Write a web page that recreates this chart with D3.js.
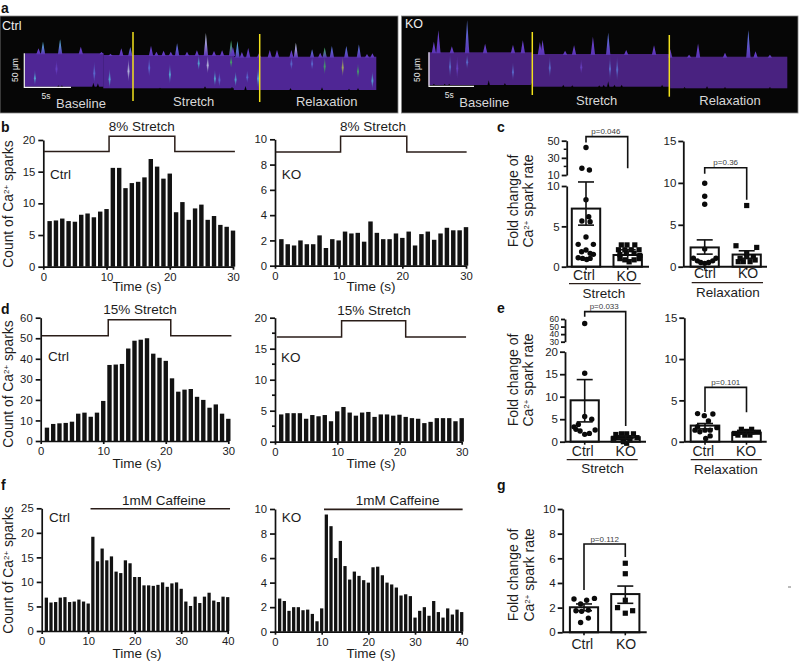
<!DOCTYPE html>
<html><head><meta charset="utf-8">
<script src="https://cdnjs.cloudflare.com/ajax/libs/d3/7.8.5/d3.min.js"></script>
<style>
html,body{margin:0;padding:0;background:#fff}
text{font-family:"Liberation Sans",Arial,sans-serif;fill:#1c1c1c}
</style></head><body><svg id="c" width="800" height="662"></svg>
<script>
// ---------- data ----------
const b8Ctrl=[7.2,7.3,7.6,7.2,7.1,8.2,8.4,7.8,8.7,9.1,15.6,15.6,12.4,13.2,13.4,14.1,17,15.8,13.9,14.7,8.6,10.2,7.4,9.2,9.8,7.4,8,6.6,6.3,5.7];
const b8KO=[2.1,1.7,1.6,2.0,1.7,1.7,2.4,1.4,2.1,2.0,2.7,2.55,2.6,1.9,3.5,2.6,2.1,2.1,2.55,2.2,2.7,1.6,2.5,2.7,2.05,2.55,3.0,2.8,2.8,3.05];
const d15Ctrl=[6.5,8.3,8.6,8.8,9.4,13.3,13.8,11.8,13.8,19.5,37,37.2,37.5,45,48.8,49.3,50,42.5,40.5,39,30.5,24,25,25.3,21.5,20,16.2,17.8,13.3,10.8];
const d15KO=[4.4,4.6,4.6,4.6,3.7,4.3,4.1,4.3,3.3,4.9,5.6,4.7,4.2,4.7,4.8,4,4.4,4.4,4.2,4.35,4,3.8,3.7,3,3.2,3.8,3.8,3.8,3.3,3.8];
const fCafCtrl=[6.8,5.8,5.9,6.8,6.9,5.9,6,6.4,6,5.6,19.2,14.2,16.8,14.4,15.2,12.1,11.8,14.4,13.8,11,11,9.3,9.3,9.2,9.4,9.9,9,9.7,9.9,8.6,6,5.1,7,5.7,7,7.8,6.2,5.9,7,6.9];
const fCafKO=[2.7,2.5,1.7,2,2,1.75,1.8,1.45,0.85,1.9,9.55,8.6,6,7.4,5.35,4.25,4.9,4.55,4.2,4,5.25,5.3,4.6,4,3.85,3.6,2.95,3.05,2.9,1.15,1.7,2,1.3,2.5,1.6,1.15,1.9,1.4,1.8,1.6];

// stimulus traces: [time, count]
const b8CtrlTrace=[[0.1,18.2],[10.4,18.2],[10.4,20.6],[20.8,20.6],[20.8,18.2],[30.3,18.2]];
const b8KOTrace=[[0.1,9],[10.3,9],[10.3,10.25],[20.7,10.25],[20.7,9],[30.1,9]];
const d15CtrlTrace=[[0.2,51.2],[10.8,51.2],[10.8,59],[20.8,59],[20.8,51.2],[30.5,51.2]];
const d15KOTrace=[[0.3,16.9],[10.7,16.9],[10.7,19.5],[21,19.5],[21,16.9],[30.7,16.9]];
const fCtrlTrace=[[10.5,24.9],[40.5,24.9]];
const fKOTrace=[[10.5,9.97],[40.2,9.97]];

// scatter points: [jitter, fold change]
const cStCtrlPts=[[0,42],[-.29,17.8],[.24,15.8],[0,8.3],[.19,6.2],[-.29,5.66],[.29,5.58],[0,3.68],[-.55,2.77],[.52,2.77],[0,2.07],[.29,1.65],[-.31,1.86],[.52,1.53],[-.55,1.1],[-.24,1.03],[.05,.9],[.29,1.03]];
const cStKOPts=[[-.45,2.7],[-.05,2.7],[.5,2.7],[-.65,2.1],[-.2,2.1],[.25,2.1],[.8,2.1],[-.55,1.5],[-.1,1.65],[.45,1.65],[.85,1.4],[-.55,1],[-.2,.85],[.1,.6],[.45,.85],[.8,1]];
const cRxCtrlPts=[[0,9.95],[0,8.4],[0,7.45],[0,2.1],[-.8,1],[-.52,.7],[-.28,.5],[0,.4],[.28,.5],[.57,.7],[.8,1]];
const cRxKOPts=[[0,7.3],[-.76,2.5],[.71,2.3],[0,1.6],[-.47,1],[0,1.2],[.47,1.2],[-.24,.6],[.24,.6],[-.6,.6],[.6,.8]];
const eStCtrlPts=[[0,54],[0,15.2],[0,5.6],[.5,5],[-.76,3.3],[-.45,3.85],[-.62,2.74],[-.33,2.37],[0,1.63],[.33,1.85],[.74,2.6]];
const eStKOPts=[[-.7,1.6],[-.3,1.75],[.07,1.75],[.55,1.75],[-.52,.9],[-.17,.75],[.2,.9],[.8,.9],[-.85,.75],[-.17,0],[.07,-.35],[.3,.4]];
const eRxCtrlPts=[[-.52,3.4],[.55,3.35],[-.05,3.15],[.24,2.5],[-.52,1.8],[-.7,1.4],[-.36,1.2],[0,1.4],[.36,1.4],[.83,1.7],[.36,.7],[.05,.4]];
const eRxKOPts=[[-.36,1.5],[.36,1.5],[-.83,1],[-.48,1.15],[0,1.25],[.48,1.15],[.83,1.15],[-.6,.8],[-.12,.8],[.24,.8]];
const gCtrlPts=[[-.71,2.7],[.19,2.6],[.74,2.75],[-.24,2.3],[-.57,1.75],[-.17,1.7],[.31,1.8],[.31,1.15],[-.24,.8]];
const gKOPts=[[0,5.6],[0,4.75],[0,2.6],[-.55,2],[.52,1.75],[0,1.55]];

// bar summary: [mean, lower error, upper error]
const cStCtrlBar=[7.2,5.15,10.5], cStKOBar=[1.45,.85,2.1];
const cRxCtrlBar=[2.3,1.5,3.2], cRxKOBar=[1.45,1.0,1.9];
const eStCtrlBar=[9.2,4.4,13.8], eStKOBar=[1.0,.7,1.3];
const eRxCtrlBar=[1.95,1.55,2.2], eRxKOBar=[1.1,.95,1.25];
const gCtrlBar=[2.03,1.75,2.3], gKOBar=[3.1,2.35,3.75];

// linescan spikes: [time s, height µm, tint]
const scanCtrlSpikes=[[2,17.5,'c'],[3.9,21,'c'],[1.5,7.5,'p'],[6.2,10,'p'],[10.7,10,'p'],[11.7,12,'b'],[14,14,'p'],[15.4,6.5,'p'],[16.9,17.5,'b'],[16.2,5,'p'],[20.1,33,'w'],[19.1,7,'p'],[22.9,22,'g'],[23.6,23.5,'c'],[23.1,12,'p'],[24.8,13,'p'],[21.9,7,'p'],[27.2,10,'p'],[28,10,'p'],[29.6,10,'p'],[30.1,21,'w'],[31.9,11,'b'],[33.3,14,'g'],[34.1,16,'b'],[35.7,16,'b'],[37.1,18.5,'b'],[38.6,5,'p'],[18,5,'p'],[14.6,5,'p'],[21,6,'p'],[24.1,7,'p'],[38,4,'p'],[8.5,2,'p'],[9.5,2,'p'],[26,5,'p'],[32.8,6,'p']];
const scanKOSpikes=[[.6,16,'p'],[1.1,33,'p'],[2.6,9,'p'],[4.3,48,'b'],[6.3,13,'p'],[9.4,11,'p'],[10.5,18,'p'],[12.4,18,'p'],[12.7,21,'p'],[15.2,5,'p'],[16.2,13,'p'],[18.3,26,'p'],[20,32,'b'],[22,6,'p'],[25.1,13,'p'],[26.9,11,'p'],[29,3,'p'],[30,20,'p'],[33,6,'p'],[35.6,40,'b'],[36.4,8,'p'],[38,3,'p']];
// streaks inside the band: [time s, from µm, to µm, tint]
const scanCtrlStreaks=[[1.1,25,48,'c'],[3.5,10,35,'p'],[7.7,12,45,'b'],[9.4,20,50,'c'],[11.5,5,40,'w'],[13.8,3,33,'b'],[16.1,13,43,'c'],[19.3,0,23,'c'],[20.3,0,28,'w'],[21.1,22,47,'c'],[21.6,25,48,'b'],[23.4,22,45,'c'],[25.9,15,48,'c'],[29.6,0,20,'b'],[31.9,0,20,'b'],[33.3,0,27,'g'],[35.3,0,30,'y'],[37,10,33,'g'],[38.6,22,48,'c'],[22.9,0,20,'g'],[24.7,20,40,'b']];
const scanKOStreaks=[[2.4,3,38,'b'],[4.3,3,25,'b'],[9.4,15,42,'b'],[3.2,5,40,'p'],[13.5,4,35,'b'],[20.2,4,38,'b'],[21,4,40,'b'],[17,8,30,'p']];
// black notches under the band: [time s, height µm]
const scanCtrlNotches=[[3.7,2],[4.1,2],[7.6,6],[8.1,5],[15,1],[20,3],[23,2],[24.5,6],[29.5,3],[33,4],[36,2],[37,3]];
const scanKONotches=[[.6,2],[1.8,2],[2.3,2],[6.7,7],[8.5,3],[11.5,3],[15,3],[16,2],[19,2],[19.5,3],[20,8],[20.7,3],[21.5,3],[26,3],[28.5,2],[31,3],[33,2],[38,2]];

// ---------- helpers ----------
const svg=d3.select('#c');
const defs=svg.append('defs');
defs.append('filter').attr('id','soft').append('feGaussianBlur').attr('stdDeviation',.6);
const tints={p:'#6d45d2',b:'#5c7fe0',c:'#55c8e0',w:'#d5e4f2',g:'#3fc15a',y:'#b9cf4a'};
Object.entries(tints).forEach(([k,c])=>{
  const g=defs.append('linearGradient').attr('id','t'+k).attr('x1',0).attr('x2',0).attr('y1',0).attr('y2',1);
  g.append('stop').attr('offset','0').attr('stop-color',c);
  g.append('stop').attr('offset','1').attr('stop-color','#5a34b4');
  const h=defs.append('linearGradient').attr('id','s'+k).attr('x1',0).attr('x2',0).attr('y1',0).attr('y2',1);
  h.append('stop').attr('offset','0').attr('stop-color',c).attr('stop-opacity',.05);
  h.append('stop').attr('offset','.55').attr('stop-color',c).attr('stop-opacity',.75);
  h.append('stop').attr('offset','1').attr('stop-color',c).attr('stop-opacity',.05);
});
function txt(x,y,s,o={}){
  const t=svg.append('text').attr('x',x).attr('y',y).text(s)
    .attr('font-size',o.size||13.5).attr('text-anchor',o.anchor||'middle');
  if(o.bold)t.attr('font-weight','bold');
  if(o.fill)t.style('fill',o.fill);
  return t;
}
function caLine(t){
  t.append('tspan').attr('font-size',8).attr('dy',-4.5).text('2+');
}
function countLabel(x,cy){
  const t=svg.append('text').attr('transform',`translate(${x},${cy}) rotate(-90)`)
    .attr('text-anchor','middle').attr('font-size',13.8);
  t.append('tspan').text('Count of Ca');
  caLine(t);
  t.append('tspan').attr('dy',4.5).text(' sparks');
}
function foldLabel(x1,x2,cy){
  svg.append('text').attr('transform',`translate(${x1},${cy}) rotate(-90)`)
    .attr('text-anchor','middle').attr('font-size',14).text('Fold change of');
  const t=svg.append('text').attr('transform',`translate(${x2},${cy}) rotate(-90)`)
    .attr('text-anchor','middle').attr('font-size',14);
  t.append('tspan').text('Ca');caLine(t);t.append('tspan').attr('dy',4.5).text(' spark rate');
}
function styleAxis(g,w=1.7,fs=11.3){
  g.selectAll('path,line').attr('stroke','#111').attr('stroke-width',w);
  g.selectAll('text').attr('font-size',fs).style('font-family','"Liberation Sans",Arial,sans-serif').style('fill','#1c1c1c');
}
function barPanel(o){
  const x=d3.scaleLinear().domain([0,o.tmax]).range([o.x0,o.x1]);
  const y=d3.scaleLinear().domain([0,o.ymax]).range([o.y0,o.y1]);
  const spacing=x(1)-x(0), w=spacing*.7;
  svg.append('g').selectAll('rect').data(o.data).join('rect')
    .attr('x',(d,i)=>x(i+1)-w/2).attr('width',w)
    .attr('y',d=>y(d)).attr('height',d=>y(0)-y(d)).attr('fill','#121212');
  const ax=svg.append('g').attr('transform',`translate(${o.x0},0)`)
    .call(d3.axisLeft(y).tickValues(o.yticks).tickSize(5).tickSizeOuter(0).tickPadding(3));
  if(o.yminor) ax.call(g=>g.selectAll('.m').data(o.yminor).join('line').attr('class','m').attr('x1',-3).attr('x2',0).attr('y1',d=>y(d)).attr('y2',d=>y(d)));
  styleAxis(ax);
  const bx=svg.append('g').attr('transform',`translate(0,${o.y0})`)
    .call(d3.axisBottom(x).tickValues(o.xticks).tickSize(3).tickSizeOuter(0).tickPadding(3));
  styleAxis(bx);
  if(o.trace){
    const ln=d3.line().x(d=>x(d[0])).y(d=>y(d[1]));
    svg.append('path').attr('d',ln(o.trace)).attr('fill','none').attr('stroke','#2a1d18').attr('stroke-width',o.traceW||1.5);
  }
}
function foldPanel(o){
  const lower=d3.scaleLinear().domain([0,o.lower[0]]).range([o.y0,o.lower[1]]);
  const upper=o.upper?d3.scaleLinear().domain(o.upper.slice(0,2)).range(o.upper.slice(2)):null;
  const y=v=>(upper&&v>=o.brk)?upper(v):lower(v);
  const cat=[{c:o.cx[0],bar:o.bars[0],pts:o.pts[0],m:'c'},{c:o.cx[1],bar:o.bars[1],pts:o.pts[1],m:'s'}];
  const hw=o.hw;
  cat.forEach(k=>{
    svg.append('rect').attr('x',k.c-hw).attr('width',2*hw).attr('y',y(k.bar[0])).attr('height',y(0)-y(k.bar[0]))
      .attr('fill','#fff').attr('stroke','#111').attr('stroke-width',2);
  });
  cat.forEach(k=>{
    const gp=svg.append('g');
    k.pts.forEach(p=>{
      const px=k.c+p[0]*hw, py=y(p[1]);
      if(k.m==='c') gp.append('circle').attr('cx',px).attr('cy',py).attr('r',2.7).attr('fill','#0a0a0a');
      else gp.append('rect').attr('x',px-2.6).attr('y',py-2.6).attr('width',5.2).attr('height',5.2).attr('fill','#0a0a0a');
    });
    const eb=svg.append('g').attr('stroke','#111').attr('stroke-width',1.6);
    eb.append('line').attr('x1',k.c).attr('x2',k.c).attr('y1',y(k.bar[1])).attr('y2',y(k.bar[2]));
    [1,2].forEach(i=>eb.append('line').attr('x1',k.c-8).attr('x2',k.c+8).attr('y1',y(k.bar[i])).attr('y2',y(k.bar[i])));
  });
  const lo=svg.append('g').attr('transform',`translate(${o.ax},0)`)
    .call(d3.axisLeft(lower).tickValues(o.lowTicks).tickSize(5).tickSizeOuter(0).tickPadding(2));
  styleAxis(lo,1.8,11.5);
  if(upper){
    const up=svg.append('g').attr('transform',`translate(${o.ax},0)`)
      .call(d3.axisLeft(upper).tickValues(o.upTicks).tickSize(o.upSize||5).tickSizeOuter(0).tickPadding(2));
    styleAxis(up,1.8,o.upFont||11);
    if(o.upMinor) up.selectAll('.m').data(o.upMinor).join('line').attr('class','m').attr('x1',-3).attr('x2',0)
      .attr('y1',d=>upper(d)).attr('y2',d=>upper(d)).attr('stroke','#111').attr('stroke-width',1.5);
    if(o.upNudge) up.selectAll('.tick text').attr('dy','.3em');
  }
  svg.append('line').attr('x1',o.ax).attr('x2',o.xend).attr('y1',o.y0).attr('y2',o.y0).attr('stroke','#111').attr('stroke-width',2);
  cat.forEach(k=>svg.append('line').attr('x1',k.c).attr('x2',k.c).attr('y1',o.y0).attr('y2',o.y0+3).attr('stroke','#111').attr('stroke-width',1.6));
  const br=o.bracket;
  svg.append('path').attr('d',d3.line()([[o.cx[0],y(br[0])],[o.cx[0],y(br[1])],[o.cx[1],y(br[1])],[o.cx[1],y(br[2])]]))
    .attr('fill','none').attr('stroke','#111').attr('stroke-width',1.6);
  txt((o.cx[0]+o.cx[1])/2+(o.pdx||0),y(br[1])-2.5,o.p,{size:8,fill:'#3d3d3d'});
}
function scan(o){
  svg.append('rect').attr('x',o.x).attr('y',16).attr('width',o.w).attr('height',97)
    .attr('fill','#060606').attr('stroke','#888').attr('stroke-width',.8);
  const tx=d3.scaleLinear().domain([0,o.tmax]).range([o.bx0,o.bx1]);
  const um=d3.scaleLinear().domain([0,50]).range([0,33.3]);
  const seg=t=>o.bands.find(b=>t<b.t1)||o.bands[o.bands.length-1];
  const g=svg.append('g').attr('filter','url(#soft)');
  o.bands.forEach(b=>g.append('rect').attr('x',tx(b.t0)).attr('width',tx(b.t1)-tx(b.t0)+.3).attr('y',b.top).attr('height',b.bot-b.top).attr('fill',o.color));
  o.spikes.forEach(s=>{
    const b=seg(s[0]),cx=tx(s[0]),h=um(s[1]);
    g.append('path').attr('d',`M${cx-2.2},${b.top+1}L${cx},${b.top-h}L${cx+2.2},${b.top+1}Z`).attr('fill',`url(#t${s[2]})`);
  });
  o.streaks.forEach(s=>{
    const b=seg(s[0]),cx=tx(s[0]),y0=b.top+um(s[1]),y1=b.top+um(s[2]);
    g.append('path').attr('d',`M${cx},${y0}L${cx+1},${(y0+y1)*.55-y0*.1}L${cx},${y1}L${cx-1},${(y0+y1)*.55-y0*.1}Z`).attr('fill',`url(#s${s[3]})`);
  });
  o.notches.forEach(s=>{
    const b=seg(s[0]),cx=tx(s[0]),h=um(s[1]);
    g.append('path').attr('d',`M${cx-1.3},${b.bot+.5}L${cx},${b.bot-h}L${cx+1.3},${b.bot+.5}Z`).attr('fill','#060606');
  });
  o.yellow.forEach(v=>svg.append('line').attr('x1',v[0]).attr('x2',v[0]).attr('y1',v[1]).attr('y2',v[2]).attr('stroke','#f2e21c').attr('stroke-width',1.5));
  svg.append('path').attr('d',d3.line()([[o.sx,o.sy0],[o.sx,o.sy1],[o.sx2,o.sy1]])).attr('fill','none').attr('stroke','#f4f4f4').attr('stroke-width',1.2);
  txt(o.lab[0],o.lab[1],o.name,{anchor:'start',size:12.5,fill:'#eee'});
  svg.append('text').attr('transform',`translate(${o.umx},70) rotate(-90)`).attr('text-anchor','middle').attr('font-size',8.5).style('fill','#e6e6e6').text('50 µm');
  txt(o.s5[0],o.s5[1],'5s',{size:8.5,fill:'#e6e6e6'});
  o.phases.forEach(p=>txt(p[0],p[1],p[2],{size:13,fill:'#d8d8d8'}));
}

// ---------- panel a ----------
scan({x:0,w:398,tmax:39,bx0:25,bx1:376,color:'#4f2795',
  bands:[{t0:0,t1:8.7,top:53.3,bot:86.7},{t0:8.7,t1:23.2,top:55,bot:88.3},{t0:23.2,t1:39,top:56.7,bot:90}],
  spikes:scanCtrlSpikes,streaks:scanCtrlStreaks,notches:scanCtrlNotches,
  yellow:[[133,32,101],[259.7,34,102]],sx:24.3,sy0:53.3,sy1:87.3,sx2:71,
  lab:[2,30],name:'Ctrl',umx:17.5,s5:[46,99],
  phases:[[81,108,'Baseline'],[193.7,106,'Stretch'],[326.7,106,'Relaxation']]});
scan({x:401.5,w:396.5,tmax:39.9,bx0:428.5,bx1:787,color:'#4a2480',
  bands:[{t0:0,t1:11.6,top:52.3,bot:85},{t0:11.6,t1:26.9,top:54,bot:86.7},{t0:26.9,t1:39.9,top:56.7,bot:88.3}],
  spikes:scanKOSpikes,streaks:scanKOStreaks,notches:scanKONotches,
  yellow:[[532.3,32,95],[669.3,35,96.7]],sx:429,sy0:52.3,sy1:86.3,sx2:474,
  lab:[405,28],name:'KO',umx:420,s5:[449.3,98],
  phases:[[484.3,106.7,'Baseline'],[596.7,105,'Stretch'],[730,105,'Relaxation']]});

// ---------- panel letters ----------
[['a',1,13],['b',1,132],['c',497,132],['d',1,314],['e',497,313],['f',1,490],['g',497,490]]
  .forEach(d=>txt(d[1],d[2],d[0],{anchor:'start',bold:true,size:14,fill:'#111'}));

// ---------- bar panels ----------
barPanel({data:b8Ctrl,tmax:30,ymax:20,x0:43.3,x1:233,y0:266.7,y1:140,yticks:[0,5,10,15,20],xticks:[0,10,20,30],trace:b8CtrlTrace});
barPanel({data:b8KO,tmax:30,ymax:10,x0:275,x1:466,y0:265.7,y1:139.3,yticks:[0,2,4,6,8,10],xticks:[0,10,20,30],trace:b8KOTrace});
barPanel({data:d15Ctrl,tmax:30,ymax:60,x0:40.7,x1:228.3,y0:441,y1:317.7,yticks:[0,10,20,30,40,50,60],xticks:[0,10,20,30],trace:d15CtrlTrace});
barPanel({data:d15KO,tmax:30,ymax:20,x0:275,x1:461.7,y0:441.7,y1:317.7,yticks:[0,5,10,15,20],yminor:[2.5,7.5,12.5,17.5],xticks:[0,10,20,30],trace:d15KOTrace});
barPanel({data:fCafCtrl,tmax:40,ymax:25,x0:41.7,x1:227.7,y0:631,y1:508.3,yticks:[0,5,10,15,20,25],xticks:[0,10,20,30,40],trace:fCtrlTrace,traceW:1.6});
barPanel({data:fCafKO,tmax:40,ymax:10,x0:275,x1:461.7,y0:631.7,y1:509,yticks:[0,2,4,6,8,10],xticks:[0,10,20,30,40],trace:fKOTrace,traceW:1.6});

[[141.7,130.7,'8% Stretch'],[373,130.7,'8% Stretch'],[140,314,'15% Stretch'],[374,315,'15% Stretch'],[164,505.3,'1mM Caffeine'],[397.7,505,'1mM Caffeine']]
  .forEach(d=>txt(d[0],d[1],d[2]));
[[50,179,'Ctrl'],[281.7,179,'KO'],[48,360.7,'Ctrl'],[281,361.7,'KO'],[49,522,'Ctrl'],[281.7,522,'KO']]
  .forEach(d=>txt(d[0],d[1],d[2],{anchor:'start'}));
[[137,291],[371,291],[137,468],[371,468],[137,658],[371,658]].forEach(d=>txt(d[0],d[1],'Time (s)'));
countLabel(13,204);countLabel(13,384);countLabel(13,570);

// ---------- fold-change panels ----------
foldPanel({ax:566.7,xend:649,y0:266.7,lower:[10,186],upper:[10,50,175,140.7],brk:12,cx:[586,627.7],hw:14.2,
  bars:[cStCtrlBar,cStKOBar],pts:[cStCtrlPts,cStKOPts],lowTicks:[0,5,10],upTicks:[10,30,50],upMinor:[20,40],
  bracket:[48,54.7,17.8],p:'p=0.046',pdx:-1});
foldPanel({ax:683.3,xend:767,y0:266.7,lower:[15,141],cx:[704.7,746.7],hw:14.1,
  bars:[cRxCtrlBar,cRxKOBar],pts:[cRxCtrlPts,cRxKOPts],lowTicks:[0,5,10,15],
  bracket:[11.1,11.8,8],p:'p=0.36'});
foldPanel({ax:565,xend:646,y0:441.7,lower:[20,351.7],upper:[30,60,341.7,319],brk:25,cx:[584.7,625.7],hw:14.1,
  bars:[eStCtrlBar,eStKOBar],pts:[eStCtrlPts,eStKOPts],lowTicks:[0,5,10,15,20],upTicks:[30,40,50,60],upSize:4,upFont:8.5,upNudge:true,
  bracket:[63,69.7,3.5],p:'p=0.033',pdx:-1});
foldPanel({ax:684.3,xend:766.7,y0:441.7,lower:[15,317.7],cx:[705,746.5],hw:14.3,
  bars:[eRxCtrlBar,eRxKOBar],pts:[eRxCtrlPts,eRxKOPts],lowTicks:[0,5,10,15],
  bracket:[3.6,6.57,3.55],p:'p=0.101'});
foldPanel({ax:562.7,xend:646.7,y0:632.3,lower:[10,509],cx:[584,625.3],hw:14.1,
  bars:[gCtrlBar,gKOBar],pts:[gCtrlPts,gKOPts],lowTicks:[0,2,4,6,8,10],
  bracket:[3.43,7.16,6.1],p:'p=0.112'});

foldLabel(518,533,201);foldLabel(518,533,380);foldLabel(518,534,575);

[[584,280,'Ctrl'],[626.7,280.7,'KO'],[705,278,'Ctrl'],[748,278,'KO'],[582.7,456,'Ctrl'],[625.7,456,'KO'],[703.3,456.3,'Ctrl'],[746,456.3,'KO'],[582.3,649,'Ctrl'],[626,649,'KO']]
  .forEach(d=>txt(d[0],d[1],d[2],{size:14}));
[[604,298,'Stretch'],[728,296.7,'Relaxation'],[602.7,472.7,'Stretch'],[726,474,'Relaxation']].forEach(d=>txt(d[0],d[1],d[2]));
[[569,640.7,283.7],[691.7,763,282.7],[566.7,637.7,459.7],[690.7,761.7,459.7]].forEach(d=>
  svg.append('line').attr('x1',d[0]).attr('x2',d[1]).attr('y1',d[2]).attr('y2',d[2]).attr('stroke','#2a1d18').attr('stroke-width',1.3));
svg.append('line').attr('x1',788).attr('x2',791).attr('y1',587).attr('y2',587).attr('stroke','#777').attr('stroke-width',1);
</script></body></html>
